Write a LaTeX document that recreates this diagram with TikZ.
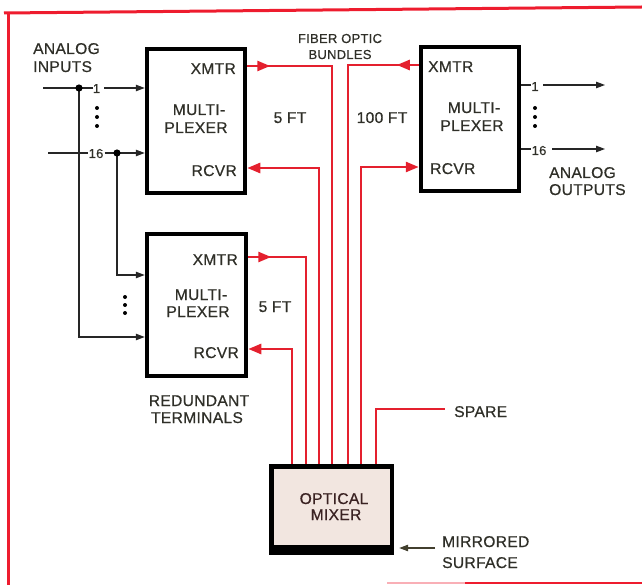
\documentclass[tikz,border=0pt]{standalone}
\usepackage{fontspec}
\setmainfont{Liberation Sans}
\newfontfamily\lblfont{Liberation Sans}[FakeBold=0.6, LetterSpace=2]
\usetikzlibrary{arrows.meta}
\definecolor{frm}{HTML}{EE1C2E}
\definecolor{fib}{HTML}{E4202E}
\definecolor{tx}{HTML}{2F2F28}
\definecolor{mixfill}{HTML}{F2E6E0}
\definecolor{mixtx}{HTML}{3A2222}
\begin{document}
\begin{tikzpicture}[x=1pt,y=-1pt,
  lbl/.style={font=\lblfont\fontsize{15.6}{19}\selectfont, text=tx, inner sep=0pt},
  smlbl/.style={font=\lblfont\fontsize{13}{15}\selectfont, text=tx, inner sep=0pt},
  mux/.style={draw=black, line width=4.5pt, inner sep=0pt, minimum width=98pt, minimum height=144pt},
  blk/.style={draw=black!85, line width=1.1pt},
  blkarr/.style={blk, -{Triangle[length=9pt,width=6.5pt]}},
  fiber/.style={draw=fib, line width=2.6pt},
  fibarr/.style={fiber, -{Triangle[length=13pt,width=10pt]}},
  vdot/.style={fill=black}
]
\useasboundingbox (0,0) rectangle (642,585);
% frame
\draw[frm, line width=3pt] (4,13) -- (642,7);
\draw[frm, line width=3pt] (8,12) -- (8,585);
\draw[frm!35, line width=2pt] (387,583) -- (465,583);
\draw[frm, line width=2pt] (465,583) -- (642,583);

% multiplexer boxes
\node[mux] (mA) at (196,121) {};
\node[mux, minimum width=99pt, minimum height=142pt] (mB) at (196.5,305) {};
\node[mux] (mC) at (470,119) {};

% box texts
\node[lbl, anchor=base east] (axm) at (236,74) {XMTR};
\node[lbl, anchor=base east] (arc) at (237,176) {RCVR};
\node[lbl, anchor=base] (am1) at (199,115) {MULTI-};
\node[lbl, anchor=base] (am2) at (196,133) {PLEXER};

\node[lbl, anchor=base east] (bxm) at (238,265) {XMTR};
\node[lbl, anchor=base east] (brc) at (239,358) {RCVR};
\node[lbl, anchor=base] (bm1) at (201,300) {MULTI-};
\node[lbl, anchor=base] (bm2) at (198,317) {PLEXER};

\node[lbl, anchor=base west] (cxm) at (428,72) {XMTR};
\node[lbl, anchor=base west] (crc) at (430,174) {RCVR};
\node[lbl, anchor=base] (cm1) at (474,113) {MULTI-};
\node[lbl, anchor=base] (cm2) at (472,131) {PLEXER};

% other labels
\node[lbl, anchor=base west] (ain1) at (33,54) {ANALOG};
\node[lbl, anchor=base west] (ain2) at (33,72) {INPUTS};
\node[smlbl, anchor=base] (fo1) at (340,43) {FIBER OPTIC};
\node[smlbl, anchor=base] (fo2) at (340,59) {BUNDLES};
\node[lbl, anchor=base] (ft1) at (290,123) {5 FT};
\node[lbl, anchor=base] (ft2) at (382,123) {100 FT};
\node[lbl, anchor=base] (ft3) at (275,312) {5 FT};
\node[lbl, anchor=base west] (aout1) at (549,178) {ANALOG};
\node[lbl, anchor=base west] (aout2) at (549,195) {OUTPUTS};
\node[lbl, anchor=base] (red1) at (199,406) {REDUNDANT};
\node[lbl, anchor=base] (red2) at (197,423) {TERMINALS};
\node[lbl, anchor=base west] (spare) at (454,417) {SPARE};
\node[lbl, anchor=base west] (mir1) at (442,547) {MIRRORED};
\node[lbl, anchor=base west] (mir2) at (442,568) {SURFACE};

% optical mixer
\node[fill=black, inner sep=0pt, minimum width=125pt, minimum height=91pt] (mix) at (331.5,509.5) {};
\node[fill=mixfill, inner sep=0pt, minimum width=116pt, minimum height=76pt] (mixin) at (332,507) {};
\node[lbl, text=mixtx, anchor=base] (mx1) at (334,504) {OPTICAL};
\node[lbl, text=mixtx, anchor=base] (mx2) at (336,520) {MIXER};

% inputs
\node[smlbl, anchor=base] (in1lab) at (96.5,93) {1};
\node[smlbl, anchor=base] (in16lab) at (96,158) {16};
\coordinate (in1) at (43,88);
\coordinate (in16) at (48,153);
\coordinate (d1) at (79,88);
\coordinate (d16) at (117,153);
\draw[blk] (in1) -- (in1lab.west |- in1);
\draw[blkarr] (in1lab.east |- in1) ++(4,0) -- (mA.west |- in1);
\draw[blk] (in16) -- (in16lab.west |- in16) ++(-2,0);
\draw[blkarr] (in16lab.east |- in16) ++(1,0) -- (mA.west |- in16);
\draw[blkarr] (d1) -- (d1 |- 0,337) -- (mB.west |- 0,337);
\draw[blkarr] (d16) -- (d16 |- 0,275) -- (mB.west |- 0,275);
\fill (d1) circle (3.6pt);
\fill (d16) circle (3.6pt);
\foreach \yy in {108,117,126} \fill[vdot] (97,\yy) circle (2pt);
\foreach \yy in {297,305,313} \fill[vdot] (125,\yy) circle (2pt);

% outputs
\node[smlbl, anchor=base] (out1lab) at (535,91) {1};
\node[smlbl, anchor=base] (out16lab) at (539,155) {16};
\coordinate (o1) at (605,85);
\coordinate (o16) at (605,149);
\draw[blk] (mC.east |- o1) -- (out1lab.west |- o1);
\draw[blkarr] (543,85) -- (o1);
\draw[blk] (mC.east |- o16) -- (out16lab.west |- o16);
\draw[blkarr] (552,149) -- (o16);
\foreach \yy in {108,117,126} \fill[vdot] (535,\yy) circle (2pt);

% fibers
\coordinate (fa) at (332,66);
\coordinate (fb) at (319,168);
\coordinate (fc) at (306,257);
\coordinate (fd) at (292,349);
\coordinate (fe) at (348,65);
\coordinate (ff) at (361,167);
\coordinate (fs) at (376,409);
\coordinate (spend) at (445,409);

\draw[fiber] (mA.east |- fa) -- (fa) -- (fa |- mix.north);
\draw[fibarr] (mA.east |- fa) -- ++(23,0);
\draw[fiber] (fb |- mix.north) -- (fb) -- ++(-40,0);
\draw[fibarr] (fb) -- (mA.east |- fb);
\draw[fiber] (mB.east |- fc) -- (fc) -- (fc |- mix.north);
\draw[fibarr] (mB.east |- fc) -- ++(23,0);
\draw[fiber] (fd |- mix.north) -- (fd) -- ++(-20,0);
\draw[fibarr] (fd) -- (mB.east |- fd);
\draw[fiber] (mC.west |- fe) -- (fe) -- (fe |- mix.north);
\draw[fibarr] (mC.west |- fe) -- ++(-22,0);
\draw[fiber] (ff |- mix.north) -- (ff) -- ++(30,0);
\draw[fibarr] (ff) -- (mC.west |- ff);
\draw[fiber] (fs |- mix.north) -- (fs) -- (spend);

% mirrored surface arrow
\coordinate (mirtail) at (435,548);
\draw[blk, draw=black!70!olive, -{Triangle[length=9pt,width=6.5pt]}] (mirtail) -- ([xshift=5pt]mix.east |- mirtail);
\end{tikzpicture}
\end{document}
